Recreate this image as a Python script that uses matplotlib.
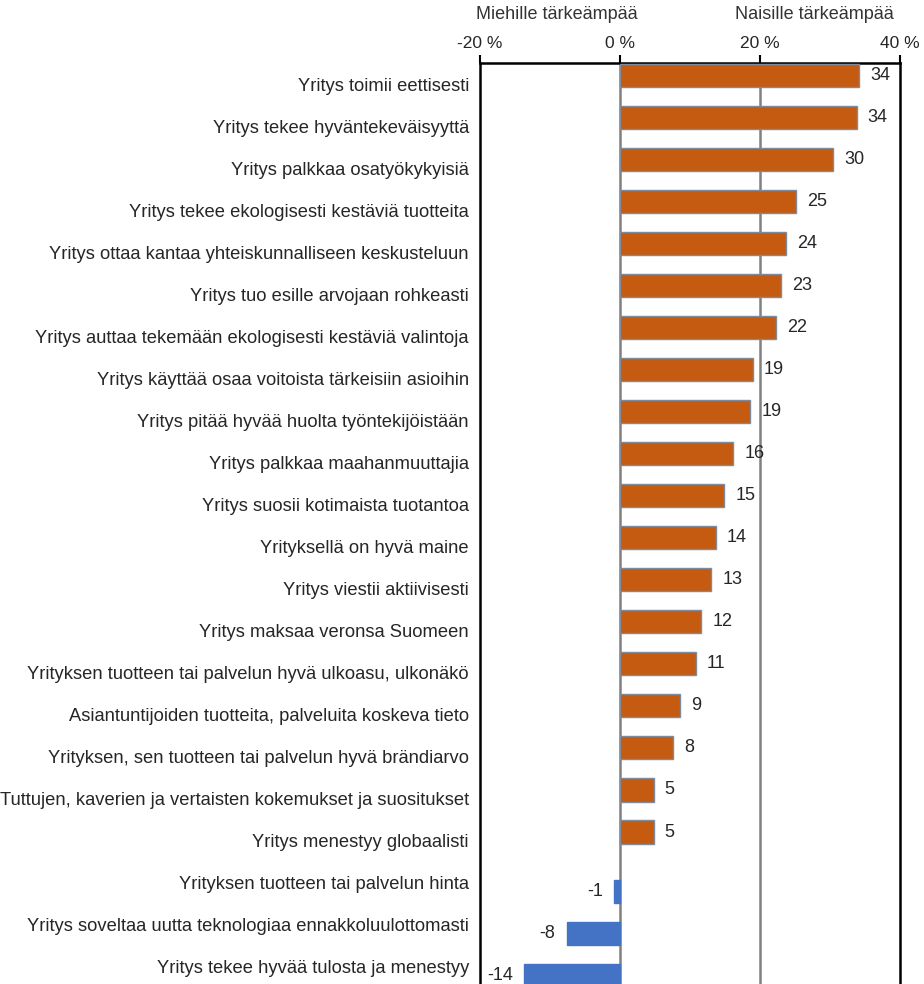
import matplotlib.pyplot as plt

plt.rcParams['font.family'] = ['Liberation Sans', 'DejaVu Sans']

# väittämät ylhäältä alas
categories = [
    "Yritys toimii eettisesti",
    "Yritys tekee hyväntekeväisyyttä",
    "Yritys palkkaa osatyökykyisiä",
    "Yritys tekee ekologisesti kestäviä tuotteita",
    "Yritys ottaa kantaa yhteiskunnalliseen keskusteluun",
    "Yritys tuo esille arvojaan rohkeasti",
    "Yritys auttaa tekemään ekologisesti kestäviä valintoja",
    "Yritys käyttää osaa voitoista tärkeisiin asioihin",
    "Yritys pitää hyvää huolta työntekijöistään",
    "Yritys palkkaa maahanmuuttajia",
    "Yritys suosii kotimaista tuotantoa",
    "Yrityksellä on hyvä maine",
    "Yritys viestii aktiivisesti",
    "Yritys maksaa veronsa Suomeen",
    "Yrityksen tuotteen tai palvelun hyvä ulkoasu, ulkonäkö",
    "Asiantuntijoiden tuotteita, palveluita koskeva tieto",
    "Yrityksen, sen tuotteen tai palvelun hyvä brändiarvo",
    "Tuttujen, kaverien ja vertaisten kokemukset ja suositukset",
    "Yritys menestyy globaalisti",
    "Yrityksen tuotteen tai palvelun hinta",
    "Yritys soveltaa uutta teknologiaa ennakkoluulottomasti",
    "Yritys tekee hyvää tulosta ja menestyy",
]
# ero naisten ja miesten välillä, %-yksikköä
values = [34.1, 33.8, 30.4, 25.2, 23.7, 23.0, 22.3, 18.95, 18.6, 16.2, 14.9,
          13.7, 13.0, 11.6, 10.8, 8.6, 7.6, 4.8, 4.8, -0.8, -7.6, -13.7]

xticks = [-20, 0, 20, 40]
xtick_labels = ["-20 %", "0 %", "20 %", "40 %"]

orange = "#C55A11"
blue = "#4472C4"
txt = "#262626"

fig = plt.figure(figsize=(9.24, 9.84), dpi=100)
ax = fig.add_axes([480 / 924, -4 / 984, 420 / 924, 925 / 984])

ypos = list(range(len(categories)))
for i, v in enumerate(values):
    if v >= 0:
        ax.barh(i - 0.21, v, height=0.55, color=orange, edgecolor="#7F8A9C",
                linewidth=1, zorder=3)
        ax.text(v + 1.6, i - 0.21, f"{v:.0f}", va="center", ha="left",
                fontsize=13, color=txt, zorder=4)
    else:
        ax.barh(i + 0.21, v, height=0.55, color=blue, edgecolor=blue,
                linewidth=1, zorder=3)
        ax.text(v - 1.6, i + 0.21, f"{v:.0f}", va="center", ha="right",
                fontsize=13, color=txt, zorder=4)

ax.set_xlim(-20, 40)
ax.set_ylim(len(categories) - 0.5, -0.5)
ax.axvline(0, color="#808080", linewidth=1.8, zorder=2)
ax.axvline(20, color="#808080", linewidth=1.8, zorder=2)

ax.xaxis.tick_top()
ax.set_xticks(xticks)
ax.set_xticklabels(xtick_labels, fontsize=12.5, color=txt)
ax.tick_params(axis="x", direction="out", length=6, width=1.5, pad=3)
ax.set_yticks(ypos)
ax.set_yticklabels(categories, fontsize=13.2, color=txt)
ax.tick_params(axis="y", length=0, pad=8)

for s in ax.spines.values():
    s.set_linewidth(1.8)
    s.set_color("black")

ax.text(-9.0, 1.052, "Miehille tärkeämpää", transform=ax.get_xaxis_transform(),
        ha="center", va="center", fontsize=13, color="#333333")
ax.text(27.7, 1.052, "Naisille tärkeämpää", transform=ax.get_xaxis_transform(),
        ha="center", va="center", fontsize=13, color="#333333")

fig.savefig("out.png", dpi=100)
